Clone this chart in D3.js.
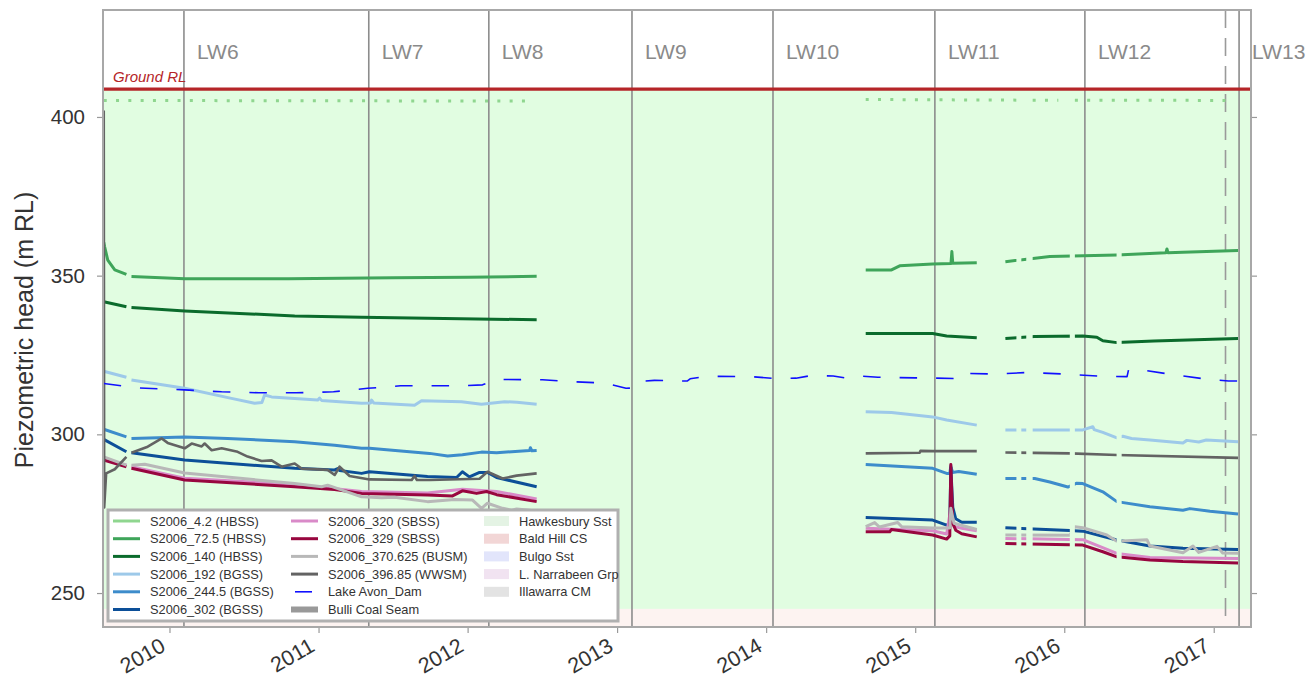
<!DOCTYPE html>
<html>
<head>
<meta charset="utf-8">
<script src="https://cdn.jsdelivr.net/npm/d3@7"></script>
<style>
  body { margin: 0; background: #fff; }
  text { font-family: "Liberation Sans", Arial, sans-serif; }
</style>
</head>
<body>
<svg id="chart"></svg>
<script>
// times are decimal years, heads are m RL; null = break in the record
const yearTicks = [2010, 2011, 2012, 2013, 2014, 2015, 2016, 2017];
const headTicks = [250, 300, 350, 400];

const longwalls = ["LW6", "LW7", "LW8", "LW9", "LW10", "LW11", "LW12", "LW13"];
const longwallStart = [2010.097, 2011.337, 2012.142, 2013.100, 2014.046, 2015.132, 2016.138, 2017.170];
const markerDate = 2017.079; // dashed marker inside LW12

const groundRL = 408.8;
const hawkesburyRange = [245.0, 408.8];
const baldHillRange = [239.3, 245.0];

// short logger outages in the 2015-2017 record
const outages = [[2015.679, 2015.712], [2015.745, 2015.788], [2016.037, 2016.071], [2016.350, 2016.384]];

const s4_2 = [
  [2009.559, 405.2], [2012.395, 405.0], null,
  [2014.668, 405.5], [2015.680, 405.3], null,
  [2015.788, 405.3], [2015.960, 405.3], null,
  [2016.071, 405.3], [2017.116, 405.2]
];
const s72_5 = [
  [2009.559, 360.5], [2009.565, 359.1], [2009.586, 354.9], [2009.633, 351.8], [2009.711, 350.4], null,
  [2009.745, 349.7], [2010.102, 349.0], [2010.800, 349.0], [2011.500, 349.3], [2012.000, 349.5], [2012.462, 349.8], null,
  [2014.668, 351.8], [2014.841, 351.8], [2014.896, 353.1], [2015.117, 353.7], [2015.240, 353.8], [2015.246, 357.6],
  [2015.252, 353.9], [2015.413, 354.1], null,
  [2015.605, 354.4], [2015.903, 356.0], [2016.352, 356.5], [2016.680, 357.2], [2016.687, 358.4], [2016.694, 357.2],
  [2016.794, 357.4], [2017.163, 357.9]
];
const s140 = [
  [2009.559, 341.8], [2009.711, 340.2], null,
  [2009.745, 340.0], [2010.102, 338.9], [2010.840, 337.3], [2011.289, 336.9], [2011.731, 336.6], [2012.462, 336.1], null,
  [2014.668, 331.8], [2015.117, 331.8], [2015.211, 331.0], [2015.413, 330.4], null,
  [2015.605, 330.2], [2015.800, 330.8], [2016.124, 331.0], [2016.218, 330.6], [2016.258, 329.5], [2016.352, 328.9],
  [2016.600, 329.4], [2017.163, 330.2]
];
const s192 = [
  [2009.559, 319.9], [2009.711, 318.0], null,
  [2009.745, 317.1], [2010.102, 314.5], [2010.400, 311.5], [2010.571, 309.8], [2010.620, 310.0], [2010.638, 312.4],
  [2010.685, 311.8], [2010.994, 310.8], [2011.007, 311.4], [2011.020, 310.7], [2011.289, 309.8], [2011.350, 309.9],
  [2011.356, 310.8], [2011.370, 309.9], [2011.644, 309.2], [2011.691, 310.6], [2011.959, 310.3], [2012.093, 309.5],
  [2012.248, 310.3], [2012.330, 310.1], [2012.462, 309.5], null,
  [2014.668, 307.1], [2014.841, 306.9], [2015.117, 305.5], [2015.211, 304.5], [2015.413, 302.9], null,
  [2015.605, 301.4], [2016.124, 301.4], [2016.191, 302.4], [2016.200, 301.5], [2016.258, 300.6], [2016.352, 298.9],
  [2016.392, 299.4], [2016.450, 298.7], [2016.573, 298.2], [2016.794, 297.3], [2016.820, 298.1], [2016.900, 297.6],
  [2016.950, 298.2], [2017.163, 297.7]
];
const s244_5 = [
  [2009.559, 301.6], [2009.711, 299.2], null,
  [2009.745, 298.7], [2010.102, 299.2], [2010.390, 298.7], [2010.840, 297.7], [2011.108, 296.6], [2011.289, 295.6],
  [2011.342, 295.6], [2011.745, 294.0], [2011.866, 293.2], [2011.965, 293.6], [2012.093, 294.4], [2012.194, 294.2],
  [2012.415, 294.9], [2012.420, 295.8], [2012.430, 294.8], [2012.462, 294.9], null,
  [2014.668, 290.5], [2015.117, 289.3], [2015.211, 287.7], [2015.232, 287.7], [2015.239, 290.0], [2015.250, 288.0],
  [2015.292, 288.3], [2015.413, 287.4], null,
  [2015.605, 286.1], [2015.802, 286.1], [2015.903, 285.0], [2016.024, 283.4], [2016.084, 284.6], [2016.124, 284.5],
  [2016.258, 281.9], [2016.352, 278.8], [2016.573, 277.2], [2016.794, 276.1], [2016.840, 276.6], [2016.975, 275.8],
  [2017.163, 274.9]
];
const s302 = [
  [2009.559, 298.4], [2009.711, 294.5], null,
  [2009.745, 294.2], [2010.102, 291.9], [2010.840, 289.3], [2011.108, 288.8], [2011.128, 289.2], [2011.141, 288.6],
  [2011.289, 287.7], [2011.342, 288.2], [2011.731, 286.7], [2011.926, 286.4], [2011.965, 288.2], [2012.012, 286.6],
  [2012.080, 288.0], [2012.133, 288.0], [2012.194, 286.4], [2012.462, 283.5], null,
  [2014.668, 273.8], [2015.117, 273.0], [2015.211, 271.4], [2015.232, 271.8], [2015.239, 289.5], [2015.252, 277.0],
  [2015.272, 273.4], [2015.312, 272.3], [2015.413, 272.3], null,
  [2015.605, 270.6], [2016.037, 269.7], [2016.124, 269.5], [2016.352, 266.7], [2016.573, 264.8], [2016.794, 264.1],
  [2017.163, 263.7]
];
const s320 = [
  [2009.559, 292.3], [2009.711, 290.3], null,
  [2009.745, 289.8], [2010.102, 286.2], [2010.840, 284.2], [2011.289, 282.0], [2011.731, 281.5], [2011.965, 282.7],
  [2012.194, 282.0], [2012.462, 279.6], null,
  [2014.668, 270.4], [2015.117, 269.6], [2015.211, 268.6], [2015.239, 276.7], [2015.260, 271.0], [2015.312, 270.4],
  [2015.413, 269.6], null,
  [2015.605, 267.2], [2016.124, 266.8], [2016.352, 262.5], [2016.573, 261.2], [2017.163, 260.9]
];
const s329 = [
  [2009.559, 291.9], [2009.711, 289.8], null,
  [2009.745, 289.3], [2010.102, 285.6], [2010.840, 283.5], [2011.108, 282.6], [2011.289, 281.4], [2011.731, 280.9],
  [2011.899, 280.6], [2011.965, 282.2], [2012.060, 281.4], [2012.127, 282.0], [2012.194, 281.0], [2012.462, 278.8], null,
  [2014.668, 269.3], [2014.829, 269.3], [2014.840, 270.0], [2015.117, 268.3], [2015.211, 267.0], [2015.232, 268.0],
  [2015.239, 290.5], [2015.252, 272.0], [2015.272, 269.8], [2015.312, 268.7], [2015.413, 267.7], null,
  [2015.605, 265.6], [2016.124, 265.1], [2016.258, 263.0], [2016.352, 261.4], [2016.573, 260.4], [2016.794, 259.9],
  [2017.163, 259.5]
];
const s370_625 = [
  [2009.559, 292.9], [2009.711, 290.3], null,
  [2009.745, 290.3], [2009.834, 290.6], [2010.102, 287.8], [2010.840, 284.5], [2011.021, 283.5], [2011.061, 284.0],
  [2011.289, 280.3], [2011.423, 280.0], [2011.510, 280.2], [2011.731, 278.8], [2011.912, 279.5], [2012.033, 279.3],
  [2012.093, 276.7], [2012.133, 278.3], [2012.234, 276.7], [2012.295, 276.1], [2012.328, 276.5], [2012.415, 276.1],
  [2012.462, 275.8], null,
  [2014.668, 270.9], [2014.728, 272.2], [2014.760, 270.8], [2014.883, 272.2], [2014.910, 270.9], [2015.117, 270.5],
  [2015.232, 270.5], [2015.239, 276.7], [2015.260, 272.0], [2015.413, 270.0], null,
  [2015.605, 268.3], [2016.037, 268.2], [2016.071, 270.9], [2016.124, 270.6], [2016.285, 268.3], [2016.352, 266.3],
  [2016.553, 266.8], [2016.573, 264.8], [2016.794, 262.7], [2016.861, 264.8], [2016.900, 262.8], [2017.022, 264.7],
  [2017.060, 262.6], [2017.163, 262.5]
];
const s396_85 = [
  [2009.559, 402.0], [2009.562, 277.0], [2009.575, 287.7], [2009.633, 289.0], [2009.711, 292.9], null,
  [2009.745, 294.2], [2009.854, 296.1], [2009.948, 298.7], [2009.988, 297.3], [2010.102, 295.6], [2010.149, 297.1],
  [2010.216, 296.2], [2010.236, 297.1], [2010.283, 295.0], [2010.350, 295.6], [2010.457, 294.5], [2010.524, 293.0],
  [2010.618, 291.6], [2010.685, 291.8], [2010.752, 289.8], [2010.840, 290.8], [2010.886, 289.2], [2011.061, 288.8],
  [2011.108, 287.2], [2011.141, 289.8], [2011.208, 286.9], [2011.342, 285.8], [2011.625, 285.6], [2011.644, 286.9],
  [2011.660, 285.6], [2011.745, 285.6], [2012.080, 286.0], [2012.133, 288.2], [2012.234, 286.1], [2012.328, 287.0],
  [2012.462, 287.7], null,
  [2014.668, 294.0], [2015.030, 294.2], [2015.035, 294.8], [2015.117, 294.7], [2015.413, 294.7], null,
  [2015.605, 294.3], [2016.037, 294.0], [2016.352, 293.5], [2017.163, 292.6]
];
const lakeAvon = [
  [2009.559, 316.0], [2009.800, 314.6], [2010.100, 314.0], [2010.350, 313.4], [2010.600, 313.1], [2010.850, 313.1],
  [2011.100, 313.4], [2011.330, 314.5], [2011.550, 315.3], [2011.950, 315.3], [2012.100, 315.6], [2012.200, 317.3],
  [2012.500, 317.2], [2012.700, 316.6], [2012.850, 316.3], [2012.950, 315.8], [2013.060, 314.5], [2013.100, 314.6],
  [2013.130, 316.6], [2013.250, 317.0], [2013.470, 316.8], [2013.490, 317.5], [2013.600, 318.3], [2013.900, 318.2],
  [2014.050, 317.6], [2014.200, 317.7], [2014.300, 318.5], [2014.450, 318.4], [2014.530, 317.8], [2014.650, 318.3],
  [2014.750, 318.0], [2015.000, 317.8], [2015.280, 317.6], [2015.310, 319.2], [2015.550, 319.0], [2015.750, 319.5],
  [2016.000, 319.0], [2016.250, 318.3], [2016.420, 318.2], [2016.430, 320.3], [2016.550, 320.1], [2016.700, 319.0],
  [2016.920, 317.6], [2017.100, 316.8], [2017.160, 316.8], [2017.190, 318.7]
];

const seriesNames = [
  "S2006_4.2 (HBSS)", "S2006_72.5 (HBSS)", "S2006_140 (HBSS)", "S2006_192 (BGSS)", "S2006_244.5 (BGSS)",
  "S2006_302 (BGSS)", "S2006_320 (SBSS)", "S2006_329 (SBSS)", "S2006_370.625 (BUSM)", "S2006_396.85 (WWSM)",
  "Lake Avon_Dam", "Bulli Coal Seam"
];
const strataNames = ["Hawkesbury Sst", "Bald Hill CS", "Bulgo Sst", "L. Narrabeen Grp", "Illawarra CM"];

// ---------------------------------------------------------------------
const seriesData = [s4_2, s72_5, s140, s192, s244_5, s302, s320, s329, s370_625, s396_85, lakeAvon, null];
const seriesColors = ["#8fd68f", "#3fa55a", "#0b6b2c", "#9dc9e9", "#3d8ccb", "#0c4f98",
  "#d98ac8", "#98063f", "#b8b8b8", "#636363", "#1010ff", "#999999"];
const strataColors = ["#e4f3e4", "#f2d6d6", "#e2e5fb", "#f1e3f1", "#e3e3e3"];

const dec = (yr) => {
  const y0 = Math.floor(yr);
  const a = Date.UTC(y0, 0, 1), b = Date.UTC(y0 + 1, 0, 1);
  return new Date(a + (yr - y0) * (b - a));
};

const dims = { width: 1315, height: 687, top: 10, right: 64, bottom: 60, left: 103 };
dims.plotW = dims.width - dims.left - dims.right;
dims.plotH = dims.height - dims.top - dims.bottom;

const svg = d3.select("#chart").attr("width", dims.width).attr("height", dims.height);
const g = svg.append("g").attr("transform", `translate(${dims.left},${dims.top})`);

const x = d3.scaleUtc().domain([dec(2009.554), dec(2017.250)]).range([0, dims.plotW]);
const y = d3.scaleLinear().domain([239.3, 433.7]).range([dims.plotH, 0]);

// clip paths: whole plot, and plot minus logger outages
const defs = svg.append("defs");
defs.append("clipPath").attr("id", "plotClip")
  .append("rect").attr("width", dims.plotW).attr("height", dims.plotH);

const present = [];
let cur = 0;
outages.forEach(([a, b]) => { present.push([cur, x(dec(a))]); cur = x(dec(b)); });
present.push([cur, dims.plotW]);
defs.append("clipPath").attr("id", "dataClip")
  .selectAll("rect").data(present).join("rect")
  .attr("x", (d) => d[0]).attr("width", (d) => d[1] - d[0])
  .attr("y", 0).attr("height", dims.plotH);

// strata background
g.append("rect")
  .attr("x", 0).attr("width", dims.plotW)
  .attr("y", y(hawkesburyRange[1])).attr("height", y(hawkesburyRange[0]) - y(hawkesburyRange[1]))
  .attr("fill", "#e1fde1");
g.append("rect")
  .attr("x", 0).attr("width", dims.plotW)
  .attr("y", y(baldHillRange[1])).attr("height", y(baldHillRange[0]) - y(baldHillRange[1]))
  .attr("fill", "#fdf3f1");

// longwall start lines + labels
g.selectAll(".lw").data(longwallStart).join("line")
  .attr("x1", (d) => x(dec(d))).attr("x2", (d) => x(dec(d)))
  .attr("y1", 0).attr("y2", dims.plotH)
  .attr("stroke", "#8c8c8c").attr("stroke-width", 1.6);
g.selectAll(".lwLabel").data(longwalls).join("text")
  .attr("x", (d, i) => x(dec(longwallStart[i])) + 13)
  .attr("y", 49)
  .attr("fill", "#8a8a8a")
  .style("font-size", "21px")
  .text((d) => d);
g.append("line")
  .attr("x1", x(dec(markerDate))).attr("x2", x(dec(markerDate)))
  .attr("y1", 0).attr("y2", dims.plotH)
  .attr("stroke", "#9a9a9a").attr("stroke-width", 1.6)
  .attr("stroke-dasharray", "18,10");

// ground level
g.append("line")
  .attr("x1", 0).attr("x2", dims.plotW)
  .attr("y1", y(groundRL)).attr("y2", y(groundRL))
  .attr("stroke", "#b52528").attr("stroke-width", 3.2);
g.append("text")
  .attr("x", 10).attr("y", y(groundRL) - 7)
  .attr("fill", "#b52528")
  .style("font-size", "15px").style("font-style", "italic")
  .text("Ground RL");

// series
const line = d3.line()
  .defined((d) => d !== null)
  .x((d) => x(dec(d[0])))
  .y((d) => y(d[1]));

seriesData.forEach((data, i) => {
  if (!data) return;
  const path = g.append("path")
    .datum(data)
    .attr("d", line)
    .attr("fill", "none")
    .attr("stroke", seriesColors[i])
    .attr("stroke-linejoin", "round");
  if (i === 0) {
    path.attr("clip-path", "url(#plotClip)")
      .attr("stroke-width", 3).attr("stroke-dasharray", "3,9.3");
  } else if (data === lakeAvon) {
    path.attr("clip-path", "url(#plotClip)")
      .attr("stroke-width", 1.6).attr("stroke-dasharray", "17.5,19");
  } else {
    path.attr("clip-path", "url(#dataClip)")
      .attr("stroke-width", i === 9 ? 2.6 : 3);
  }
});

// axes
const styleAxis = (sel) => {
  sel.select(".domain").remove();
  sel.selectAll(".tick line").attr("stroke", "#999").attr("stroke-width", 1.2);
  sel.selectAll(".tick text").attr("fill", "#333").style("font-size", "20.5px");
};

g.append("g")
  .call(d3.axisLeft(y).tickValues(headTicks).tickSize(6).tickPadding(12))
  .call(styleAxis);

g.append("g")
  .attr("transform", `translate(${dims.plotW},0)`)
  .call(d3.axisRight(y).tickValues(headTicks).tickSize(6).tickFormat(""))
  .call(styleAxis);

const xAxisG = g.append("g")
  .attr("transform", `translate(0,${dims.plotH})`)
  .call(d3.axisBottom(x).tickValues(yearTicks.map(dec)).tickSize(6).tickFormat(d3.utcFormat("%Y")))
  .call(styleAxis);
xAxisG.selectAll(".tick text")
  .attr("text-anchor", "end")
  .attr("y", 0).attr("dy", "0")
  .style("font-size", "21.5px")
  .attr("transform", "translate(-3,23) rotate(-30)");

// frame
g.append("rect")
  .attr("width", dims.plotW).attr("height", dims.plotH)
  .attr("fill", "none").attr("stroke", "#a8a8a8").attr("stroke-width", 2);

// y label
svg.append("text")
  .attr("transform", "translate(33,330) rotate(-90)")
  .attr("text-anchor", "middle")
  .attr("fill", "#333")
  .style("font-size", "25px")
  .text("Piezometric head (m RL)");

// legend
const legend = svg.append("g").attr("transform", "translate(108,510)");
legend.append("rect")
  .attr("width", 510).attr("height", 111)
  .attr("fill", "#fff").attr("stroke", "#b0b0b0").attr("stroke-width", 3);

const rowY = (r) => 11 + r * 17.7;
seriesNames.forEach((name, i) => {
  const col = i < 6 ? 0 : 1;
  const r = i % 6;
  const hx = col === 0 ? 5 : 183;
  const item = legend.append("g").attr("transform", `translate(${hx},${rowY(r)})`);
  if (i === 10) {
    item.append("line").attr("x1", 4).attr("x2", 21).attr("y1", 0).attr("y2", 0)
      .attr("stroke", seriesColors[i]).attr("stroke-width", 1.6);
  } else {
    item.append("line").attr("x1", 0).attr("x2", 27).attr("y1", 0).attr("y2", 0)
      .attr("stroke", seriesColors[i]).attr("stroke-width", i === 11 ? 6 : 3);
  }
  item.append("text")
    .attr("x", 37).attr("y", 0).attr("dy", "0.36em")
    .attr("fill", "#333").style("font-size", "12.8px")
    .text(name);
});
strataNames.forEach((name, i) => {
  const item = legend.append("g").attr("transform", `translate(376,${rowY(i)})`);
  item.append("rect").attr("x", 0).attr("y", -5).attr("width", 25).attr("height", 10)
    .attr("fill", strataColors[i]);
  item.append("text")
    .attr("x", 35).attr("y", 0).attr("dy", "0.36em")
    .attr("fill", "#333").style("font-size", "12.8px")
    .text(name);
});
</script>
</body>
</html>
